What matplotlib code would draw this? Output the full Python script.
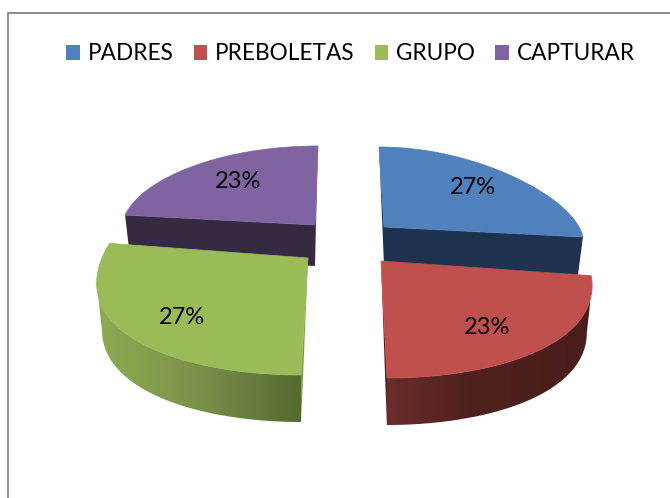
import numpy as np
import matplotlib
matplotlib.use('Agg')
from matplotlib import pyplot as plt
from matplotlib.patches import Patch, Polygon
from matplotlib.colors import to_rgb

labels = ['PADRES', 'PREBOLETAS', 'GRUPO', 'CAPTURAR']
values = [27, 23, 27, 23]
colors = ['#4f81bd', '#c0504d', '#9bbb59', '#8064a2']

# pixel layout of each exploded slice: apex, radii, lean, taper, thickness
apex = [(384, 227), (381, 261), (308, 258), (315, 225)]
radii = [(195, 80), (206, 117), (206, 117), (193, 79)]
lean = [5, 6, -7, -3]
taper = [0.2, 0.2, 0.2, 0.05]
depth = [38, 47, 47, 41]
edge_cols = ['#1f3350', '#4a1d1c', '#7f9f47', '#4d3b63']
face_cols = ['#1f3350', None, None, '#352a42']
# rim shading, left to right across the slice
rim_x = {1: [386, 470, 590], 2: [96, 200, 301]}
rim_cols = {1: ['#6b2d2b', '#4f201e', '#4a1d1c'], 2: ['#8fab52', '#79914a', '#56692f']}
label_pos = [(473, 186), (487, 326), (182, 316), (238, 180)]


def slice_pts(i, a0, a1, n=120):
    t = np.linspace(a0, a1, n)
    cx, cy = apex[i]
    rx, ry = radii[i]
    grow = 1 - taper[i] * np.cos(t)
    x = cx + rx * np.sin(t) * grow - lean[i] * np.cos(t)
    y = cy - ry * np.cos(t)
    return x, y


fig = plt.figure(figsize=(6.7, 4.98), dpi=100)
ax = fig.add_axes([0, 0, 1, 1])
ax.set_xlim(0, 670)
ax.set_ylim(498, 0)
ax.axis('off')

# chart frame, runs off the picture to the right and bottom
ax.plot([8, 8, 670], [498, 12.5, 12.5], color='#8c8c8c', lw=1.4)

fracs = np.cumsum([0] + values) / sum(values) * 2 * np.pi
for i in [3, 0, 2, 1]:
    x, y = slice_pts(i, fracs[i], fracs[i + 1])
    cx, cy = apex[i]
    d = depth[i]
    # lower edge sits a bit closer to the apex
    xb = cx + (x - cx) * 0.975
    yb = y + d

    if i in (0, 3):
        # back slices show the flat cut face
        e, s = (-1, 0) if i == 0 else (0, -1)
        ax.add_patch(Polygon([(cx, cy), (x[e], y[e]), (xb[e], yb[e]), (cx, cy + d)],
                             fc=face_cols[i], ec='none'))
        ax.add_patch(Polygon([(x[s], y[s]), (cx, cy), (cx, cy + d)],
                             fc=edge_cols[i], ec='none'))
    else:
        # front slices show the rim, shaded along the arc
        e = -1 if i == 1 else 0
        ax.add_patch(Polygon([(cx, cy), (x[e], y[e]), (xb[e], yb[e])],
                             fc=edge_cols[i], ec='none'))
        # keep only the part of the arc in front of its widest point
        if i == 1:
            keep = np.arange(x.argmax(), len(x))
        else:
            keep = np.arange(0, x.argmin() + 1)
        rim = Polygon(np.c_[np.r_[x[keep], xb[keep][::-1]], np.r_[y[keep], yb[keep][::-1]]],
                      fc='none', ec='none')
        ax.add_patch(rim)
        gx = np.linspace(rim_x[i][0], rim_x[i][-1], 256)
        rgb = np.array([to_rgb(c) for c in rim_cols[i]])
        grad = np.stack([np.interp(gx, rim_x[i], rgb[:, k]) for k in range(3)], axis=-1)
        im = ax.imshow(grad[np.newaxis, :, :], aspect='auto',
                       extent=(gx[0], gx[-1], yb.max(), y.min()))
        im.set_clip_path(rim)

    ax.fill(np.r_[cx, x], np.r_[cy, y], color=colors[i], lw=0.5)

ax.set_xlim(0, 670)
ax.set_ylim(498, 0)

total = sum(values)
for v, (lx, ly) in zip(values, label_pos):
    ax.text(lx, ly + 1, '%d%%' % round(v / total * 100), ha='center', va='center',
            family='Lato', fontsize=17, color='black')

handles = [Patch(fc=c, ec='none', label=l) for c, l in zip(colors, labels)]
ax.legend(handles=handles, ncols=4, loc='center', bbox_to_anchor=(350.5 / 670, 1 - 54 / 498),
          frameon=False, prop={'family': 'Lato', 'size': 16.3},
          handlelength=0.6, handleheight=0.6, handletextpad=0.35,
          columnspacing=0.88, borderpad=0, borderaxespad=0)

fig.savefig('out.png', dpi=100)
